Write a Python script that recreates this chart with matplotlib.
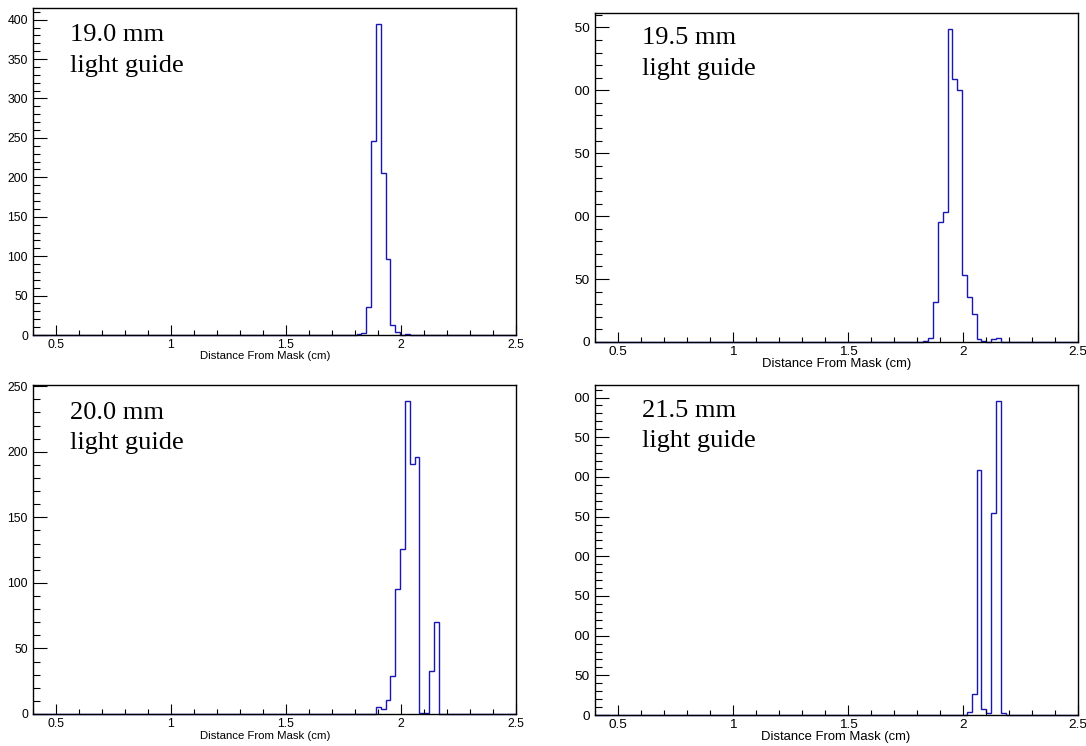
import numpy as np
import matplotlib.pyplot as plt
from matplotlib.ticker import MultipleLocator
from matplotlib.transforms import Bbox, TransformedBbox

# ROOT histograms: 100 bins from 0.4 to 2.5 cm
nbins = 100
xmin, xmax = 0.4, 2.5

guide_labels = ["19.0 mm", "19.5 mm", "20.0 mm", "21.5 mm"]

# non-empty part of each histogram: index of first bin, then bin contents
first_190 = 67
counts_190 = [1, 3, 36, 246, 395, 205, 97, 13, 4, 0, 1]
first_195 = 68
counts_195 = [1, 3, 32, 95, 103, 249, 209, 200, 53, 36, 22, 2, 1, 0, 2, 3]
first_200 = 71
counts_200 = [5, 4, 11, 29, 95, 126, 239, 191, 196, 1, 1, 33, 70]
first_215 = 77
counts_215 = [4, 26, 309, 7, 3, 255, 396, 2]

xticks = [0.5, 1, 1.5, 2, 2.5]
xticklabels = ["0.5", "1", "1.5", "2", "2.5"]

W, H = 1086, 746


def fx(px):
    return px / W


def fy(py):
    return 1 - py / H


fig = plt.figure(figsize=(W / 100, H / 100), dpi=100)
plt.rcParams['font.family'] = ['Liberation Sans', 'DejaVu Sans']

# pixel boxes of the four pads: left, top, right, bottom
boxes = [(33, 8, 516, 335), (595, 13, 1078, 342),
         (33, 385, 516, 714), (595, 385, 1078, 715)]
data = [(first_190, counts_190), (first_195, counts_195),
        (first_200, counts_200), (first_215, counts_215)]
ytop = [400, 250, 250, 400]
tick_fs = [8.8, 9.7, 8.8, 9.7]
title_fs = [8.2, 9.4, 8.2, 9.4]
title_pos = [(265.5, 356), (836.5, 364), (265, 736), (836, 737)]
text_pos = [(70, 41, 72), (642, 44, 75), (70, 419, 449), (642, 417, 447)]

edges = np.linspace(xmin, xmax, nbins + 1)

for i in range(4):
    l, t, r, b = boxes[i]
    ax = fig.add_axes([fx(l), fy(b), fx(r - l), (b - t) / H])
    first, cnt = data[i]
    h = np.zeros(nbins)
    h[first:first + len(cnt)] = cnt
    ax.stairs(h, edges, color='#1818b0', lw=1.0, baseline=None, clip_on=False)
    ax.set_xlim(xmin, xmax)
    ax.set_ylim(0, 1.05 * max(cnt))

    ax.set_xticks(xticks, xticklabels)
    ax.xaxis.set_minor_locator(MultipleLocator(0.1))
    ax.set_yticks(np.arange(0, ytop[i] + 1, 50))
    ax.yaxis.set_minor_locator(MultipleLocator(10))
    ax.tick_params(axis='x', which='major', direction='in', length=7.2, width=0.8, pad=3, labelsize=tick_fs[i])
    ax.tick_params(axis='x', which='minor', direction='in', length=3.6, width=0.8)
    ax.tick_params(axis='y', which='major', direction='in', length=10.4, width=0.8, pad=3.6, labelsize=tick_fs[i])
    ax.tick_params(axis='y', which='minor', direction='in', length=5.2, width=0.8)
    for s in ax.spines.values():
        s.set_linewidth(1.0)

    ax.set_xlabel("Distance From Mask (cm)", fontsize=title_fs[i])
    ax.xaxis.label.set_va('center')
    ax.xaxis.set_label_coords((title_pos[i][0] - l) / (r - l), -(title_pos[i][1] - b) / (b - t))

    # right column was cropped in the original, cutting the y labels
    if i % 2 == 1:
        clip = TransformedBbox(Bbox([[fx(575), 0], [1, 1]]), fig.transFigure)
        for tk in ax.yaxis.get_major_ticks():
            tk.label1.set_clip_on(True)
            tk.label1.set_clip_box(clip)

    tx, b1, b2 = text_pos[i]
    fig.text(fx(tx), fy(b1), guide_labels[i], family='Liberation Serif', fontsize=19, va='baseline')
    fig.text(fx(tx), fy(b2), "light guide", family='Liberation Serif', fontsize=19, va='baseline')

fig.savefig("out.png", dpi=100)
